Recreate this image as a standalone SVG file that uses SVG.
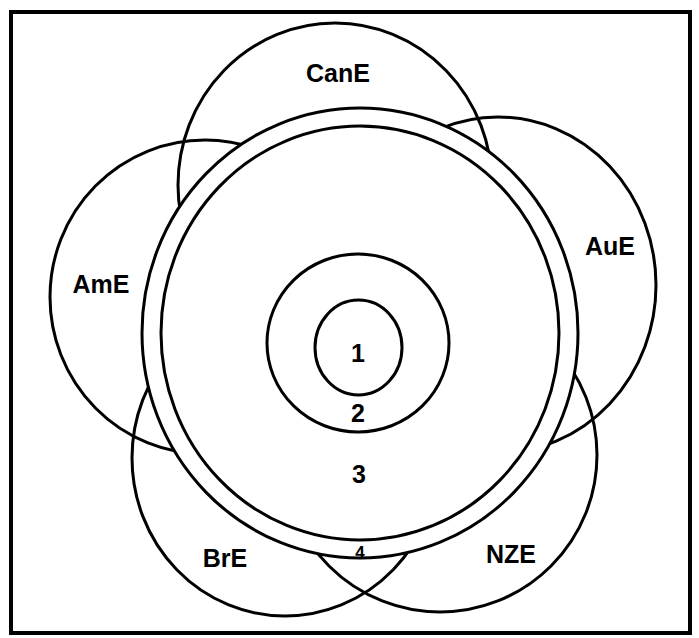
<svg xmlns="http://www.w3.org/2000/svg" width="699" height="638" viewBox="0 0 699 638">
<style>
.ln{fill:none;stroke:#000;stroke-width:3}
.ring{fill:#fff;stroke:#000;stroke-width:3}
.lbl{font-family:"Liberation Sans",Arial,sans-serif;font-weight:bold;font-size:25px;fill:#000;text-anchor:middle}
.frame{fill:none;stroke:#000;stroke-width:4}
</style>
<rect x="0" y="0" width="699" height="638" fill="#fff"/>
<g id="petals">
<g id="CanE"><ellipse class="ln" cx="335" cy="185" rx="157" ry="162"/></g>
<g id="AuE"><ellipse class="ln" cx="498" cy="285" rx="158" ry="168"/></g>
<g id="NZE"><circle class="ln" cx="440" cy="455" r="157"/></g>
<g id="BrE"><ellipse class="ln" cx="285" cy="458" rx="153" ry="158"/></g>
<g id="AmE"><ellipse class="ln" cx="205" cy="297" rx="155" ry="157"/></g>
</g>
<g id="ring4">
<ellipse class="ring" cx="360" cy="333" rx="218" ry="225"/>
</g>
<g id="ring3">
<ellipse class="ln" cx="360" cy="333" rx="199" ry="207"/>
</g>
<g id="circle2">
<ellipse class="ln" cx="358" cy="343" rx="91" ry="89"/>
</g>
<g id="circle1">
<ellipse class="ln" cx="358.5" cy="347.5" rx="43.5" ry="47.5"/>
</g>
<g id="labels">
<text class="lbl" x="338" y="82">CanE</text>
<text class="lbl" x="101" y="293">AmE</text>
<text class="lbl" x="610" y="255">AuE</text>
<text class="lbl" x="225" y="567">BrE</text>
<text class="lbl" x="511" y="563">NZE</text>
<text class="lbl" x="358" y="362">1</text>
<text class="lbl" x="358" y="422">2</text>
<text class="lbl" x="359" y="483">3</text>
<text class="lbl" x="360" y="558" style="font-size:17px">4</text>
</g>
<g id="frame">
<rect class="frame" x="11" y="12" width="679" height="621"/>
</g>
</svg>
